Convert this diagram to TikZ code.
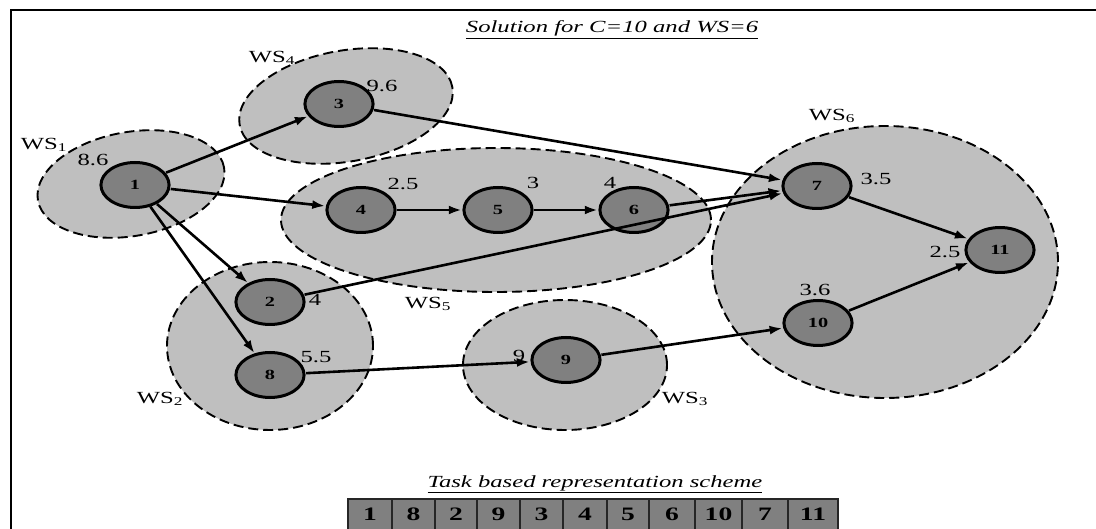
\documentclass[tikz,border=0pt]{standalone}
\usepackage{fontspec}
\setmainfont{Liberation Serif}
\usetikzlibrary{shapes.geometric,arrows.meta}

\tikzset{
  station/.style={ellipse, draw=black, dash pattern=on 10pt off 5pt, line width=1.9pt, fill=black!25, inner sep=0pt},
  task/.style={ellipse, draw=black, line width=3pt, fill=black!50, inner sep=0pt,
    minimum width=47pt, minimum height=45pt, xscale=1.45, font=\fontsize{14}{14}\selectfont\bfseries},
  link/.style={line width=2.6pt, -{Latex[length=13pt,width=9pt]}},
  lbl/.style={inner sep=0pt, xscale=1.45, font=\fontsize{17}{17}\selectfont},
  heading/.style={anchor=base, inner sep=0pt, xscale=1.45, font=\fontsize{17}{17}\selectfont\itshape},
  slot/.style={draw=black!85, line width=1.8pt, fill=black!50},
  slottext/.style={inner sep=0pt, xscale=1.45, font=\fontsize{19}{19}\selectfont\bfseries}
}

\begin{document}
\begin{tikzpicture}[x=1pt,y=-1pt]
\useasboundingbox (0,0) rectangle (1096,529);
\clip (0,0) rectangle (1096,529);
\draw[line width=2.8pt] (11,545) -- (11,10) -- (1110,10);

\node[heading] (title) at (612,33) {\underline{Solution for C=10 and WS=6}};

% workstations
\foreach \Point/\Name/\W/\H/\Rot in {(131,184)/ws1/189/104/10, (346,106)/ws4/216/111/10,
    (496,220)/ws5/430/144/0, (270,346)/ws2/206/168/0, (565,365)/ws3/204/130/0, (885,262)/ws6/346/272/0}
  \node[station, minimum width=\W pt, minimum height=\H pt, rotate=\Rot] (\Name) at \Point {};

% tasks
\foreach \Point/\Name/\Task in {(135,185)/t1/1, (270,302)/t2/2, (339,104)/t3/3, (361,210)/t4/4,
    (498,210)/t5/5, (634,210)/t6/6, (817,186)/t7/7, (270,375)/t8/8, (566,360)/t9/9,
    (818,323)/t10/10, (1000,250)/t11/11}
  \node[task] (\Name) at \Point {\Task};

\foreach \From/\To in {t1/t3, t1/t4, t1/t2, t1/t8, t3/t7, t4/t5, t5/t6, t6/t7, t2/t7,
    t8/t9, t9/t10, t7/t11, t10/t11}
  \draw[link] (\From) -- (\To);

% task times
\node[lbl] (w1) at (93,160) {8.6};
\node[lbl] (w2) at (315,300) {4};
\node[lbl] (w3) at (382,86) {9.6};
\node[lbl] (w4) at (403,184) {2.5};
\node[lbl] (w5) at (533,183) {3};
\node[lbl] (w6) at (610,183) {4};
\node[lbl] (w7) at (876,179) {3.5};
\node[lbl] (w8) at (316,357) {5.5};
\node[lbl] (w9) at (519,356) {9};
\node[lbl] (w10) at (815,290) {3.6};
\node[lbl] (w11) at (945,252) {2.5};

% workstation names
\node[lbl] (n1) at (44,145) {WS\textsubscript{1}};
\node[lbl] (n2) at (160,399) {WS\textsubscript{2}};
\node[lbl] (n3) at (685,399) {WS\textsubscript{3}};
\node[lbl] (n4) at (272,58) {WS\textsubscript{4}};
\node[lbl] (n5) at (428,304) {WS\textsubscript{5}};
\node[lbl] (n6) at (832,116) {WS\textsubscript{6}};

% task sequence
\node[heading] (scheme) at (595,487) {\underline{Task based representation scheme}};
\foreach \Left/\Right/\Task [count=\i] in {348/392/1, 392/435/8, 435/477/2, 477/520/9,
    520/563/3, 563/607/4, 607/649/5, 649/695/6, 695/742/10, 742/788/7, 788/838/11}
{
  \draw[slot] (\Left,499) rectangle (\Right,535);
  \node[slottext] (c\i) at ({(\Left+\Right)/2},514) {\Task};
}
\end{tikzpicture}
\end{document}
